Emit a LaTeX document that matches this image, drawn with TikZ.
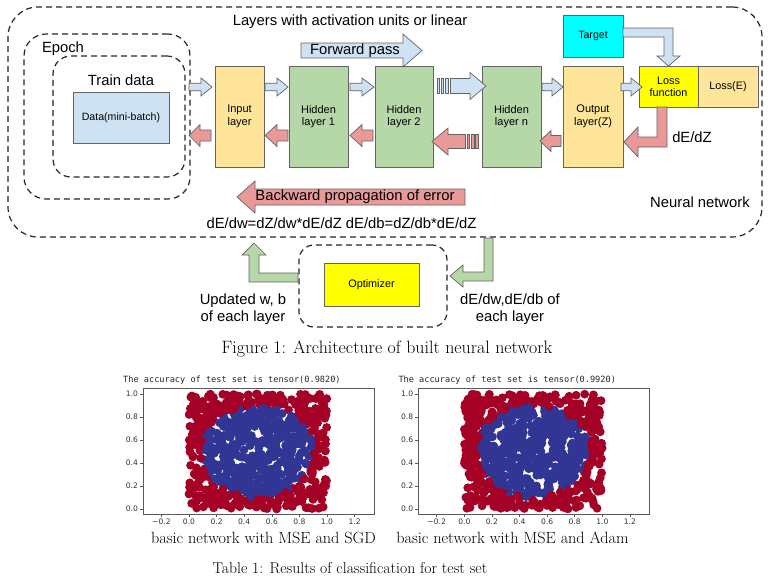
\documentclass[tikz,border=0pt]{standalone}
\usepackage{fontspec}
\newfontfamily\arial{Liberation Sans}
\newfontfamily\djmono{DejaVu Sans Mono}
\newfontfamily\djsans{DejaVu Sans}
\usetikzlibrary{calc}
\definecolor{lblue}{HTML}{CFE2F3}
\definecolor{lred}{HTML}{EA9999}
\definecolor{lgreen}{HTML}{B6D7A8}
\definecolor{lyellow}{HTML}{FFE599}
\definecolor{cyanb}{HTML}{00FFFF}
\definecolor{ybox}{HTML}{FFFF00}
\definecolor{pred}{RGB}{165,0,38}
\definecolor{pblue}{RGB}{49,54,149}
\definecolor{edgec}{RGB}{100,100,100}
\tikzset{
  dbox/.style={draw=black!85, line width=1.2pt, dash pattern=on 6pt off 4pt, inner sep=0pt},
  blk/.style={draw=edgec, line width=0.8pt, inner sep=0pt, align=center,
    font=\arial\fontsize{11}{12.5}\selectfont},
  bigtxt/.style={font=\arial\fontsize{14.8}{17}\selectfont, inner sep=0pt, align=center},
  capt/.style={font=\fontsize{15}{18}\selectfont, inner sep=0pt},
  arrB/.style={fill=lblue, draw=edgec, line width=0.7pt},
  arrR/.style={fill=lred, draw=edgec, line width=0.7pt},
  arrG/.style={fill=lgreen, draw=edgec, line width=0.7pt},
  tickl/.style={font=\djsans\fontsize{7.6}{9}\selectfont, inner sep=0pt, text=black!80},
}
% #1 style, #2 tail x, #3 head base x, #4 tip x, #5 y, #6 body half, #7 head half
\newcommand\harr[7]{\draw[#1] (#2,{#5-#6}) -- (#3,{#5-#6}) -- (#3,{#5-#7}) -- (#4,#5) -- (#3,{#5+#7}) -- (#3,{#5+#6}) -- (#2,{#5+#6}) -- cycle;}
% striped bar: #1 style, #2 y, #3 x, #4 half
\newcommand\sbar[4]{\draw[#1] (#3,{#2-#4}) rectangle (#3+2.6,{#2+#4});}
\newcommand\myscatter[3]{%
  \begin{scope}[shift={(#1pt,-509pt)}, x=138pt, y=115pt]
    \pgfmathsetseed{#2}
    \foreach \i in {1,...,800}{
      \pgfmathsetmacro\px{rnd}
      \pgfmathsetmacro\py{rnd}
      \pgfmathtruncatemacro\inn{((\px-0.5)^2+(\py-0.5)^2<0.16)?1:0}
      \ifnum\inn=1 \fill[pblue] (\px,\py) circle (4.4pt);\else\fill[pred] (\px,\py) circle (4.4pt);\fi
    }
    \draw[black!65, line width=0.6pt] (-0.333,-0.043) rectangle (1.341,1.052);
    \foreach \t/\l in {-0.2/{−0.2},0/{0.0},0.2/{0.2},0.4/{0.4},0.6/{0.6},0.8/{0.8},1/{1.0},1.2/{1.2}}{
      \draw[black!65, line width=0.5pt] (\t,-0.043) -- ++(0,-3pt);
      \node[tickl, anchor=north] at ([yshift=-5pt]\t,-0.043) {\l};
    }
    \foreach \t/\l in {0/{0.0},0.2/{0.2},0.4/{0.4},0.6/{0.6},0.8/{0.8},1/{1.0}}{
      \draw[black!65, line width=0.5pt] (-0.333,\t) -- ++(-3pt,0);
      \node[tickl, anchor=east] at ([xshift=-5pt]-0.333,\t) {\l};
    }
  \end{scope}
  \node[anchor=west, inner sep=0pt, font=\djmono\fontsize{8.6}{10}\selectfont, text=black!85]
    at (#1-66,380) {The accuracy of test set is tensor(#3)};
}
\begin{document}
\begin{tikzpicture}[x=1pt,y=-1pt]
\useasboundingbox (0,0) rectangle (772,579);
\fill[white] (0,0) rectangle (772,579);

% containers
\node[dbox, minimum width=754, minimum height=230, rounded corners=30] (nn) at (385,122) {};
\node[dbox, minimum width=166, minimum height=165, rounded corners=22] (epoch) at (107,116.5) {};
\node[dbox, minimum width=132, minimum height=121, rounded corners=18] (train) at (119,116.5) {};
\node[dbox, minimum width=148, minimum height=82, rounded corners=15] (optc) at (373,286) {};

% labels
\node[bigtxt] (ltitle) at (350,22) {Layers with activation units or linear};
\node[bigtxt] (lepoch) at (63,49) {Epoch};
\node[bigtxt] (ltrain) at (121,80) {Train data};
\node[bigtxt] (lnn) at (700,202) {Neural network};

% boxes
\node[blk, fill=lblue, minimum width=96, minimum height=51, font=\arial\fontsize{10.6}{12}\selectfont] (data) at (121,117.5) {Data(mini-batch)};
\node[blk, fill=lyellow, minimum width=49, minimum height=101] (in) at (239.5,116.5) {Input\\layer};
\node[blk, fill=lgreen, minimum width=59, minimum height=101] (h1) at (318.5,116.5) {Hidden\\layer 1};
\node[blk, fill=lgreen, minimum width=58, minimum height=101] (h2) at (404,116.5) {Hidden\\layer 2};
\node[blk, fill=lgreen, minimum width=59, minimum height=101] (hn) at (511.5,116.5) {Hidden\\layer n};
\node[blk, fill=lyellow, minimum width=60, minimum height=101] (out) at (593,116.5) {Output\\layer(Z)};
\node[blk, fill=cyanb, minimum width=60, minimum height=42, font=\arial\fontsize{10.6}{12}\selectfont] (target) at (593,36) {Target};
\node[blk, fill=lyellow, minimum width=60, minimum height=41, font=\arial\fontsize{10.8}{12}\selectfont] (losse) at (728,86.5) {Loss(E)};
\node[blk, fill=ybox, minimum width=59, minimum height=41, font=\arial\fontsize{10.8}{12}\selectfont] (loss) at (668.5,86.5) {Loss\\function};
\node[blk, fill=ybox, minimum width=95, minimum height=43, font=\arial\fontsize{10.8}{12}\selectfont] (opt) at (371.5,284.5) {Optimizer};

% big arrows
\harr{arrB}{301}{403}{422}{50.5}{7.5}{16.5}
\node[bigtxt] (lfwd) at (355,51) {Forward pass};
\harr{arrR}{465}{255}{237}{197}{8}{16}
\node[bigtxt] (lbwd) at (355,197) {Backward propagation of error};
\node[bigtxt] (lform) at (341.5,223) {dE/dw=dZ/dw*dE/dZ dE/db=dZ/db*dE/dZ};

% forward small arrows
\harr{arrB}{189}{201}{212}{87}{3.8}{9}
\harr{arrB}{265}{277}{288}{87}{3.8}{9}
\harr{arrB}{350}{362}{374}{87}{3.8}{9}
\harr{arrB}{542}{552}{563}{87}{3.8}{9}
\harr{arrB}{621}{631}{642}{87}{3.8}{9}
% striped forward
\harr{arrB}{450.5}{470}{486}{86}{7.5}{13.5}
\sbar{arrB}{86}{437}{7.5}
\sbar{arrB}{86}{441.2}{7.5}
\sbar{arrB}{86}{445.6}{7.5}

% backward small arrows
\harr{arrR}{211}{200}{189}{135.5}{5.5}{11}
\harr{arrR}{288}{277}{265}{135.5}{5.5}{11}
\harr{arrR}{373}{362}{350}{135.5}{5.5}{11}
\harr{arrR}{561}{551}{540}{141}{5.5}{10.5}
% striped backward
\harr{arrR}{465.5}{448}{432}{141.5}{7}{13.5}
\sbar{arrR}{141.5}{467.2}{7}
\sbar{arrR}{141.5}{471.4}{7}
\sbar{arrR}{141.5}{475.6}{7}

% target -> loss
\draw[arrB] (623,28) -- (673,28) -- (673,56) -- (680,56) -- (668.5,66) -- (657,56) -- (664,56) -- (664,37) -- (623,37) -- cycle;
% loss -> output (dE/dZ)
\draw[arrR] (657,107) -- (667,107) -- (667,147) -- (638,147) -- (638,157) -- (624,142) -- (638,127) -- (638,137) -- (657,137) -- cycle;
\node[bigtxt] (ldez) at (692,137) {dE/dZ};

% optimizer arrows
\draw[arrG] (298,273) -- (259,273) -- (259,255) -- (266,255) -- (254,243) -- (242,255) -- (249,255) -- (249,282) -- (298,282) -- cycle;
\draw[arrG] (484,238) -- (493,238) -- (493,281) -- (463,281) -- (463,287) -- (450,276) -- (463,265) -- (463,272) -- (484,272) -- cycle;
\node[bigtxt] (lupd) at (243,309.5) {Updated w, b\\of each layer};
\node[bigtxt] (lgrad) at (510,309.5) {dE/dw,dE/db of\\each layer};

\node[capt, font=\fontsize{17.9}{20}\selectfont] (fcap) at (387,349) {Figure 1: Architecture of built neural network};

% plots
\myscatter{189}{7}{0.9820}
\myscatter{464.3}{23}{0.9920}
\node[capt, font=\fontsize{16.2}{19}\selectfont] (c1) at (263.5,538) {basic network with MSE and SGD};
\node[capt, font=\fontsize{16.2}{19}\selectfont] (c2) at (512.5,538) {basic network with MSE and Adam};
\node[capt, font=\fontsize{15.7}{18}\selectfont] (tcap) at (350,568) {Table 1: Results of classification for test set};
\end{tikzpicture}
\end{document}
